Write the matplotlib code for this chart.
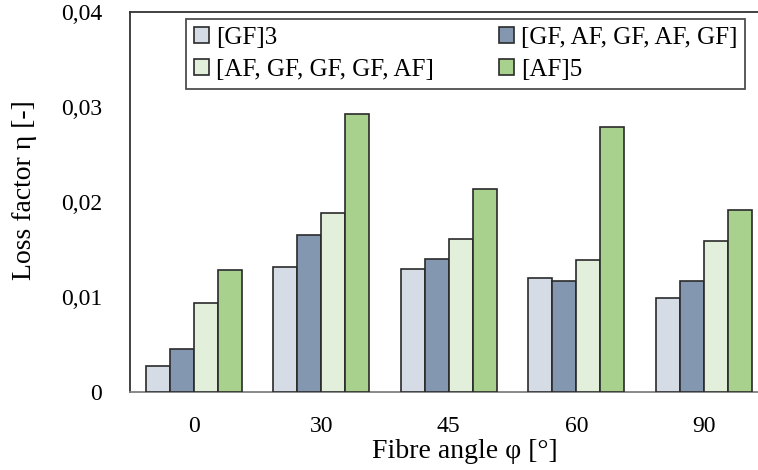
import matplotlib
matplotlib.use("Agg")
import matplotlib.pyplot as plt
import numpy as np

angles = ["0", "30", "45", "60", "90"]
series_names = ["[GF]3", "[GF, AF, GF, AF, GF]", "[AF, GF, GF, GF, AF]", "[AF]5"]
gf3 = [0.0027, 0.0132, 0.0130, 0.0120, 0.0099]
gf_af = [0.0045, 0.0165, 0.0140, 0.0117, 0.0117]
af_gf = [0.0094, 0.0188, 0.0161, 0.0139, 0.0159]
af5 = [0.0128, 0.0293, 0.0214, 0.0279, 0.0192]
colors = ["#D6DCE5", "#8497B0", "#E2EFDA", "#A9D18E"]
yticks = [0, 0.01, 0.02, 0.03, 0.04]
ytick_labels = ["0", "0,01", "0,02", "0,03", "0,04"]

plt.rcParams['font.family'] = ['Liberation Serif', 'DejaVu Serif']

fig = plt.figure(figsize=(7.58, 4.70), dpi=100)
ax = fig.add_axes([130/758, 78/470, 637.5/758, 380/470])

x = np.arange(len(angles))
w = 0.188
handles = []
for i, (vals, c) in enumerate(zip([gf3, gf_af, af_gf, af5], colors)):
    h = ax.bar(x + (i - 1.5) * w, vals, width=w, color=c, edgecolor="#2a2a2a",
               linewidth=1.2, label=series_names[i], zorder=3)
    handles.append(h)

ax.set_xlim(-0.5, 4.5)
ax.set_ylim(0, 0.04)
ax.set_yticks(yticks)
ax.set_yticklabels(ytick_labels)
ax.set_xticks(x)
ax.set_xticklabels(angles)
ax.tick_params(axis='y', length=0, pad=20, labelsize=17)
ax.tick_params(axis='x', length=0, pad=17, labelsize=17)
for s in ["left", "top"]:
    ax.spines[s].set_color("#333333")
    ax.spines[s].set_linewidth(1.3)
ax.spines["bottom"].set_color("#808080")
ax.spines["bottom"].set_linewidth(1.3)
ax.spines["right"].set_visible(False)

ax.set_ylabel("Loss factor η [-]", fontsize=20, labelpad=14)
ax.set_xlabel("Fibre angle φ [°]", fontsize=20, labelpad=0)
ax.xaxis.set_label_coords(0.525, -0.125)
ax.yaxis.set_label_coords(-0.146, 0.53)

order = [0, 2, 1, 3]
leg = fig.legend([handles[k] for k in order], [series_names[k] for k in order],
                 loc="upper left", ncol=2,
                 bbox_to_anchor=(186/758, 1 - 19/470),
                 bbox_transform=fig.transFigure, borderaxespad=0,
                 fontsize=18, frameon=True, fancybox=False, shadow=False,
                 handlelength=0.6, handleheight=0.6, handletextpad=0.3,
                 labelspacing=0.42, borderpad=0.3, columnspacing=2.6)
leg.get_frame().set_edgecolor("#222222")
leg.get_frame().set_linewidth(1.3)

fig.savefig("out.png", dpi=100)
